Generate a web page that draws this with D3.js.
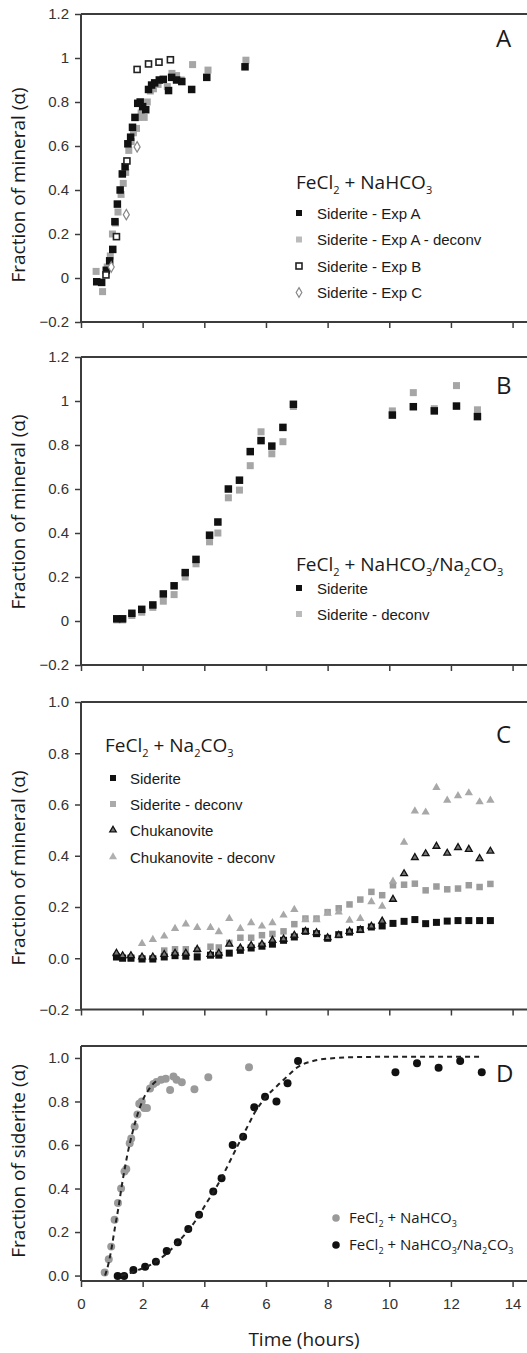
<!DOCTYPE html>
<html>
<head>
<meta charset="utf-8">
<script src="https://cdn.jsdelivr.net/npm/d3@7"></script>
<style>
  body { margin: 0; background: #fff; }
  svg { display: block; }
  .tick text { font-family: "Liberation Sans", Arial, sans-serif; font-size: 15px; fill: #333; }
  .legend-item { font-family: "Liberation Sans", Arial, sans-serif; font-size: 15px; fill: #1a1a1a; }
  .title { font-family: "Open Sans", sans-serif; fill: #1a1a1a; }
</style>
</head>
<body>
<svg id="chart" width="527" height="1353"></svg>
<script>
// ---- data ----
var timeTicks = [0, 2, 4, 6, 8, 10, 12, 14];
var yTicksAB = [-0.2, 0, 0.2, 0.4, 0.6, 0.8, 1, 1.2];
var yTicksC = [-0.2, 0, 0.2, 0.4, 0.6, 0.8, 1.0];
var yTicksD = [0, 0.2, 0.4, 0.6, 0.8, 1.0];

// panel A: FeCl2 + NaHCO3  [time, fraction]
var expA = [[0.51,-0.017],[0.67,-0.02],[0.82,0.035],[0.93,0.078],[1.03,0.13],[1.10,0.256],[1.18,0.336],
  [1.27,0.40],[1.34,0.473],[1.43,0.506],[1.52,0.61],[1.61,0.64],[1.67,0.685],[1.75,0.73],[1.84,0.794],
  [1.92,0.80],[2.0,0.779],[2.1,0.765],[2.19,0.857],[2.29,0.877],[2.39,0.887],[2.54,0.90],[2.67,0.903],
  [2.84,0.852],[2.94,0.912],[3.1,0.9],[3.27,0.893],[3.59,0.857],[4.08,0.912],[5.32,0.96]];
var expADeconv = [[0.49,0.03],[0.70,-0.062],[0.85,0.05],[0.95,0.1],[1.02,0.2],[1.12,0.25],[1.2,0.3],
  [1.3,0.38],[1.37,0.43],[1.45,0.48],[1.55,0.58],[1.63,0.62],[1.7,0.66],[1.8,0.68],[1.87,0.73],
  [1.95,0.75],[2.05,0.73],[2.15,0.8],[2.25,0.85],[2.35,0.86],[2.5,0.88],[2.65,0.9],[2.8,0.87],
  [2.95,0.93],[3.1,0.92],[3.25,0.9],[3.62,0.97],[4.12,0.945],[5.35,0.99]];
var expB = [[0.81,0.014],[1.15,0.188],[1.49,0.532],[1.82,0.948],[2.19,0.973],[2.53,0.981],[2.9,0.992]];
var expC = [[0.98,0.05],[1.47,0.288],[1.82,0.596]];

// panel B: FeCl2 + NaHCO3/Na2CO3
var bSiderite = [[1.16,0.01],[1.35,0.01],[1.65,0.035],[1.97,0.053],[2.33,0.073],[2.67,0.123],[3.02,0.16],
  [3.38,0.22],[3.73,0.28],[4.17,0.39],[4.44,0.45],[4.78,0.60],[5.14,0.64],[5.49,0.77],[5.84,0.82],
  [6.19,0.795],[6.55,0.88],[6.89,0.985],[10.1,0.936],[10.78,0.974],[11.46,0.955],[12.18,0.977],[12.86,0.929]];
var bDeconv = [[1.16,0.005],[1.35,0.005],[1.65,0.025],[1.97,0.04],[2.33,0.062],[2.67,0.09],[3.02,0.12],
  [3.38,0.2],[3.73,0.26],[4.17,0.36],[4.44,0.40],[4.78,0.56],[5.14,0.595],[5.49,0.706],[5.84,0.86],
  [6.19,0.76],[6.55,0.815],[6.89,0.975],[10.1,0.955],[10.78,1.038],[11.46,0.965],[12.18,1.07],[12.86,0.96]];

// panel C: FeCl2 + Na2CO3
var cTime = [1.15,1.35,1.62,1.98,2.33,2.7,3.05,3.4,3.77,4.2,4.47,4.81,5.17,5.52,5.87,6.21,6.57,6.92,
  7.28,7.64,8.0,8.36,8.71,9.06,9.42,9.77,10.12,10.48,10.83,11.18,11.53,11.88,12.23,12.58,12.93,13.28];
var cSiderite = [0.005,0.0,0.0,-0.003,-0.003,0.005,0.01,0.008,0.005,0.012,0.012,0.02,0.031,0.04,0.047,
  0.055,0.07,0.083,0.105,0.096,0.078,0.092,0.102,0.112,0.122,0.126,0.136,0.144,0.151,0.135,0.14,0.145,
  0.147,0.147,0.147,0.147];
var cSideriteDeconv = [0.005,0.003,0.003,0.0,0.0,0.03,0.035,0.035,0.03,0.045,0.042,0.06,0.08,0.08,0.09,
  0.095,0.105,0.133,0.155,0.155,0.18,0.195,0.21,0.229,0.259,0.246,0.285,0.287,0.291,0.265,0.28,0.269,
  0.272,0.285,0.278,0.29];
var cChuk = [0.02,0.01,0.01,0.005,0.005,0.015,0.02,0.02,0.035,0.015,0.02,0.055,0.04,0.05,0.055,0.07,
  0.075,0.09,0.105,0.1,0.08,0.09,0.105,0.11,0.125,0.145,0.23,0.33,0.393,0.408,0.437,0.41,0.432,0.425,
  0.389,0.418];
var cChukDeconv = [0.015,0.01,0.01,0.057,0.073,0.086,0.116,0.133,0.12,0.12,0.103,0.155,0.116,0.138,
  0.125,0.138,0.168,0.19,0.15,0.15,0.175,0.18,0.148,0.155,0.22,0.203,0.30,0.452,0.574,0.57,0.666,
  0.616,0.634,0.645,0.61,0.616];

// panel D: siderite fraction for both systems, plus fitted curves
var dBicarb = [[0.77,0.014],[0.9,0.075],[0.98,0.133],[1.09,0.256],[1.2,0.333],[1.3,0.40],[1.41,0.478],
  [1.47,0.49],[1.58,0.608],[1.63,0.63],[1.74,0.685],[1.83,0.74],[1.89,0.79],[1.97,0.80],[2.05,0.77],
  [2.14,0.77],[2.24,0.86],[2.35,0.88],[2.45,0.89],[2.6,0.9],[2.75,0.905],[2.89,0.853],[3.0,0.915],
  [3.1,0.9],[3.27,0.888],[3.68,0.856],[4.13,0.911],[5.45,0.957]];
var dMixed = [[1.19,-0.002],[1.40,-0.002],[1.70,0.026],[2.08,0.041],[2.43,0.064],[2.78,0.113],[3.14,0.153],
  [3.48,0.214],[3.83,0.279],[4.29,0.386],[4.56,0.447],[4.92,0.60],[5.26,0.638],[5.62,0.773],[5.97,0.822],
  [6.34,0.80],[6.70,0.884],[7.04,0.986],[10.2,0.934],[10.9,0.976],[11.6,0.955],[12.3,0.986],[13.0,0.934]];
var fitBicarb = [[0.78,0.0],[0.9,0.06],[1.0,0.133],[1.1,0.22],[1.22,0.317],[1.32,0.41],[1.43,0.5],
  [1.54,0.58],[1.65,0.646],[1.78,0.715],[1.92,0.776],[2.05,0.82],[2.19,0.853],[2.32,0.878],[2.45,0.895]];
var fitMixed = [[1.3,0.0],[1.6,0.012],[1.86,0.026],[2.2,0.045],[2.51,0.072],[2.85,0.11],[3.16,0.156],
  [3.5,0.21],[3.8,0.27],[4.1,0.34],[4.34,0.394],[4.6,0.46],[4.9,0.545],[5.2,0.63],[5.42,0.69],
  [5.64,0.75],[6.0,0.82],[6.5,0.89],[6.8,0.93],[7.0,0.955],[7.5,0.985],[8.0,0.997],[9.0,1.004],
  [10.5,1.006],[13.0,1.006]];

// ---- drawing ----
var svg = d3.select("#chart");
var left = 81, right = 527;
var x = d3.scaleLinear().domain([0, 14.5]).range([left, 528]);
var axisColor = "#3c3c3c";
var generalFmt = function (d) { return d3.format("~g")(d); };

function drawPanel(p) {
  var y = d3.scaleLinear().domain(p.domain).range([p.bottom, p.top]);
  var g = svg.append("g");

  // top border of the frame
  g.append("line")
    .attr("x1", left).attr("x2", right)
    .attr("y1", p.top).attr("y2", p.top)
    .style("stroke", axisColor).style("stroke-width", 2);

  var yAxis = d3.axisLeft(y).tickValues(p.ticks).tickSize(6).tickSizeOuter(0)
    .tickPadding(6).tickFormat(p.fmt);
  var ya = g.append("g").attr("transform", "translate(" + left + ",0)").call(yAxis);
  ya.select(".domain").attr("d", "M0," + p.top + "V" + p.bottom);

  var xAxis = d3.axisBottom(x).tickValues(timeTicks).tickSize(6).tickSizeOuter(0)
    .tickPadding(11).tickFormat(p.xLabels ? d3.format("d") : "");
  var xa = g.append("g").attr("transform", "translate(0," + p.bottom + ")").call(xAxis);
  xa.select(".domain").attr("d", "M" + left + ",0H" + right);

  g.selectAll(".domain").style("stroke", axisColor).style("stroke-width", 2);
  g.selectAll(".tick line").style("stroke", axisColor).style("stroke-width", 1.5);

  // y label
  g.append("text")
    .attr("class", "title")
    .attr("transform", "translate(25," + p.labelY + ") rotate(-90)")
    .attr("text-anchor", "middle")
    .style("font-size", "19px")
    .text(p.label);

  // panel letter
  g.append("text")
    .attr("class", "title")
    .attr("x", 496).attr("y", p.letterY)
    .style("font-size", "24px")
    .text(p.letter);
  return { g: g, y: y };
}

function chem(sel, parts, size) {
  var subSize = Math.round(size * 0.6);
  parts.forEach(function (pt, i) {
    var t = sel.append("tspan").text(pt[0]);
    if (pt[1]) t.style("font-size", subSize + "px").attr("dy", size * 0.28);
    else if (i > 0 && parts[i - 1][1]) t.attr("dy", -size * 0.28);
  });
}

function squares(g, y, data, size, fill, stroke) {
  g.append("g").selectAll("rect").data(data).enter().append("rect")
    .attr("x", function (d) { return x(d[0]) - size / 2; })
    .attr("y", function (d) { return y(d[1]) - size / 2; })
    .attr("width", size).attr("height", size)
    .style("fill", fill)
    .style("stroke", stroke || "none")
    .style("stroke-width", stroke ? 1.6 : 0);
}

function symbols(g, y, data, type, area, fill, stroke, sw) {
  g.append("g").selectAll("path").data(data).enter().append("path")
    .attr("d", d3.symbol().type(type).size(area))
    .attr("transform", function (d) { return "translate(" + x(d[0]) + "," + y(d[1]) + ")"; })
    .style("fill", fill)
    .style("stroke", stroke || "none")
    .style("stroke-width", sw || 0);
}

function legendItem(g, cx, tx, cy, label, drawMarker) {
  drawMarker(g, cx, cy);
  g.append("text").attr("class", "legend-item")
    .attr("x", tx).attr("y", cy + 5.5).text(label);
}
function sqMarker(size, fill, stroke) {
  return function (g, cx, cy) {
    g.append("rect").attr("x", cx - size / 2).attr("y", cy - size / 2)
      .attr("width", size).attr("height", size)
      .style("fill", fill).style("stroke", stroke || "none").style("stroke-width", stroke ? 1.6 : 0);
  };
}
function symMarker(type, area, fill, stroke, sw) {
  return function (g, cx, cy) {
    g.append("path").attr("d", d3.symbol().type(type).size(area))
      .attr("transform", "translate(" + cx + "," + cy + ")")
      .style("fill", fill).style("stroke", stroke || "none").style("stroke-width", sw || 0);
  };
}

var black = "#111", grey = "#a6a6a6";

// Panel A
var A = drawPanel({ top: 14, bottom: 322, domain: [-0.2, 1.2], ticks: yTicksAB, fmt: generalFmt,
  label: "Fraction of mineral (α)", labelY: 185, letter: "A", letterY: 47 });
squares(A.g, A.y, expADeconv, 7, grey);
squares(A.g, A.y, expA, 7.5, black);
squares(A.g, A.y, expB, 6, "#fff", "#222");
symbols(A.g, A.y, expC, d3.symbolDiamond, 32, "#fff", "#888", 1.2);
chem(A.g.append("text").attr("class", "title").attr("x", 296).attr("y", 189).style("font-size", "19px"),
  [["FeCl"], ["2", 1], [" + NaHCO"], ["3", 1]], 19);
legendItem(A.g, 299, 317, 213, "Siderite - Exp A", sqMarker(6, black));
legendItem(A.g, 299, 317, 239.5, "Siderite - Exp A - deconv", sqMarker(6, "#bbb"));
legendItem(A.g, 299, 317, 266, "Siderite - Exp B", sqMarker(6, "#fff", "#222"));
legendItem(A.g, 299, 317, 292.5, "Siderite - Exp C", symMarker(d3.symbolDiamond, 28, "#fff", "#888", 1.2));

// Panel B
var B = drawPanel({ top: 357, bottom: 665, domain: [-0.2, 1.2], ticks: yTicksAB, fmt: generalFmt,
  label: "Fraction of mineral (α)", labelY: 512, letter: "B", letterY: 394 });
squares(B.g, B.y, bDeconv, 7, grey);
squares(B.g, B.y, bSiderite, 7.5, black);
chem(B.g.append("text").attr("class", "title").attr("x", 296).attr("y", 571).style("font-size", "19px"),
  [["FeCl"], ["2", 1], [" + NaHCO"], ["3", 1], ["/Na"], ["2", 1], ["CO"], ["3", 1]], 19);
legendItem(B.g, 299, 317, 588, "Siderite", sqMarker(6, black));
legendItem(B.g, 299, 317, 614, "Siderite - deconv", sqMarker(6, "#bbb"));

// Panel C
var C = drawPanel({ top: 702, bottom: 1009.5, domain: [-0.2, 1.0], ticks: yTicksC, fmt: d3.format(".1f"),
  label: "Fraction of mineral (α)", labelY: 868, letter: "C", letterY: 743 });
function zipC(vals) { return cTime.map(function (t, i) { return [t, vals[i]]; }); }
squares(C.g, C.y, zipC(cSideriteDeconv), 6.5, "#9c9c9c");
symbols(C.g, C.y, zipC(cChukDeconv), d3.symbolTriangle, 30, "#a8a8a8");
squares(C.g, C.y, zipC(cSiderite), 7, black);
symbols(C.g, C.y, zipC(cChuk), d3.symbolTriangle, 20, "#777", "#111", 1.3);
chem(C.g.append("text").attr("class", "title").attr("x", 105).attr("y", 752).style("font-size", "19px"),
  [["FeCl"], ["2", 1], [" + Na"], ["2", 1], ["CO"], ["3", 1]], 19);
legendItem(C.g, 113, 130, 778, "Siderite", sqMarker(6, black));
legendItem(C.g, 113, 130, 804, "Siderite - deconv", sqMarker(6, "#aaa"));
legendItem(C.g, 113, 130, 830, "Chukanovite", symMarker(d3.symbolTriangle, 18, "#777", "#111", 1.3));
legendItem(C.g, 113, 130, 857, "Chukanovite - deconv", symMarker(d3.symbolTriangle, 28, "#b0b0b0"));

// Panel D
var D = drawPanel({ top: 1046, bottom: 1281, domain: [-0.025, 1.055], ticks: yTicksD, fmt: d3.format(".1f"),
  label: "Fraction of siderite (α)", labelY: 1161, letter: "D", letterY: 1082, xLabels: true });
var fitLine = d3.line().x(function (d) { return x(d[0]); }).y(function (d) { return D.y(d[1]); })
  .curve(d3.curveMonotoneX);
symbols(D.g, D.y, dBicarb, d3.symbolCircle, 50, "#9a9a9a");
symbols(D.g, D.y, dMixed, d3.symbolCircle, 50, black);
[fitBicarb, fitMixed].forEach(function (f) {
  D.g.append("path").datum(f).attr("d", fitLine)
    .style("fill", "none").style("stroke", "#222").style("stroke-width", 2)
    .style("stroke-dasharray", "5,4");
});
var dl1 = D.g.append("text").attr("class", "title").attr("x", 349).attr("y", 1223).style("font-size", "15px");
chem(dl1, [["FeCl"], ["2", 1], [" + NaHCO"], ["3", 1]], 15);
var dl2 = D.g.append("text").attr("class", "title").attr("x", 349).attr("y", 1250).style("font-size", "15px");
chem(dl2, [["FeCl"], ["2", 1], [" + NaHCO"], ["3", 1], ["/Na"], ["2", 1], ["CO"], ["3", 1]], 15);
symMarker(d3.symbolCircle, 45, "#9a9a9a")(D.g, 336, 1218);
symMarker(d3.symbolCircle, 45, black)(D.g, 336, 1245);

// x axis title
svg.append("text").attr("class", "title")
  .attr("x", 304).attr("y", 1346).attr("text-anchor", "middle")
  .style("font-size", "19px").text("Time (hours)");
</script>
</body>
</html>
